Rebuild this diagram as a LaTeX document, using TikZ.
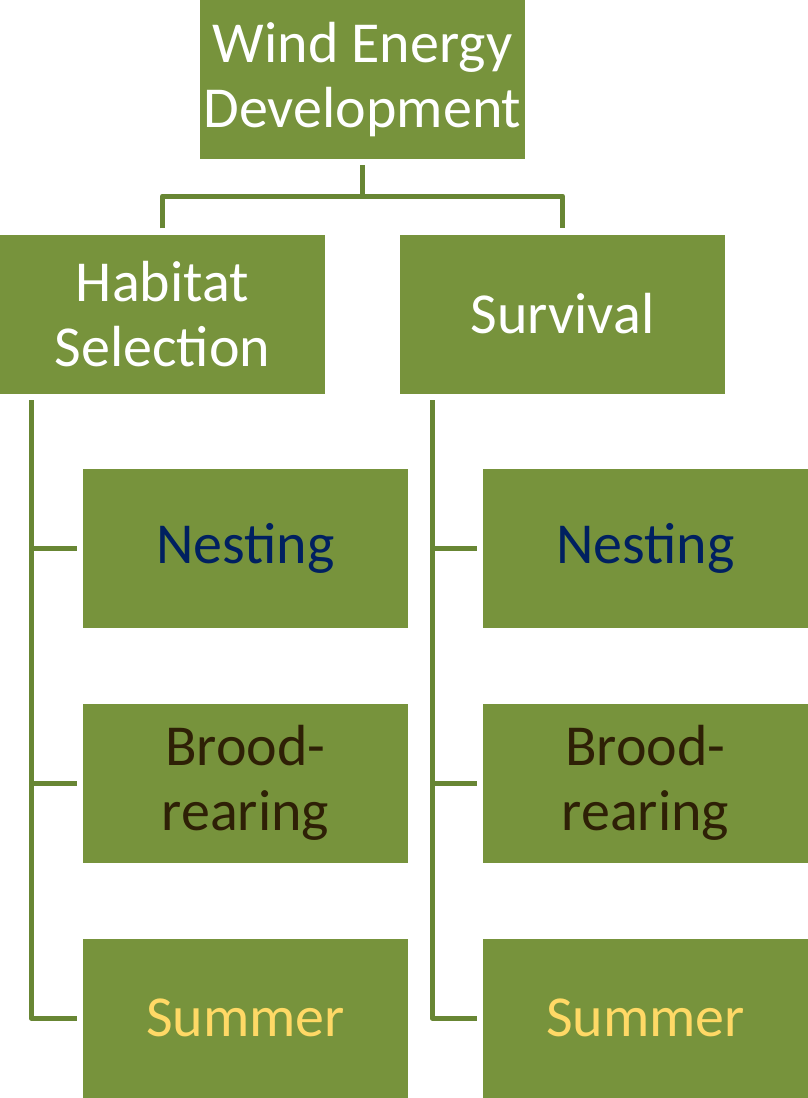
\documentclass[tikz,border=0pt]{standalone}
\usepackage{fontspec}
\setmainfont{Carlito}
\usetikzlibrary{positioning}

\definecolor{leaf}{RGB}{119,147,60}
\definecolor{stem}{RGB}{104,134,52}
\definecolor{navytext}{RGB}{0,32,96}
\definecolor{browntext}{RGB}{46,32,6}
\definecolor{goldtext}{RGB}{255,217,102}

\begin{document}
\begin{tikzpicture}[
  x=1pt, y=-1pt,
  box/.style={fill=leaf, minimum width=325pt, minimum height=159pt,
              inner sep=0pt, align=center,
              font=\fontsize{58}{65}\selectfont},
  link/.style={draw=stem, line width=5pt, line join=round,
               shorten <=6pt, shorten >=6pt}
]
\useasboundingbox (0,0) rectangle (808,1098);

\node[box, text=white] (wed) at (362.5,79.5) {Wind Energy\\Development};
\node[box, text=white] (hab) at (162.5,314) {Habitat\\Selection};
\node[box, text=white] (surv) at (562.5,314) {Survival};

\node[box, text=navytext] (hnest) at (245.5,548.5) {Nesting};
\node[box, text=browntext] (hbrood) at (245.5,783) {Brood-\\rearing};
\node[box, text=goldtext] (hsum) at (245.5,1018) {Summer};

\node[box, text=navytext] (snest) at (645.5,548.5) {Nesting};
\node[box, text=browntext] (sbrood) at (645.5,783) {Brood-\\rearing};
\node[box, text=goldtext] (ssum) at (645.5,1018) {Summer};

\coordinate (split) at (362.5,196);
\coordinate (hspine) at (31,394);
\coordinate (sspine) at (432,394);

\draw[link, shorten >=0pt] (wed.south) -- (split);
\draw[link] (hab.north) |- (split) -| (surv.north);

\foreach \kid in {hnest,hbrood,hsum}
  \draw[link] (hspine) |- (\kid.west);
\foreach \kid in {snest,sbrood,ssum}
  \draw[link] (sspine) |- (\kid.west);
\end{tikzpicture}
\end{document}
